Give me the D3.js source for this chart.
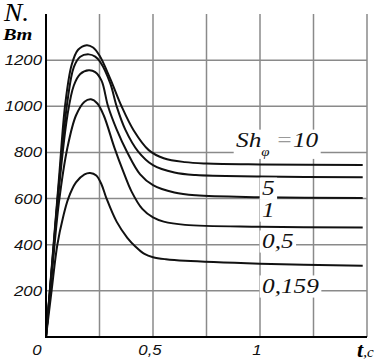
<!DOCTYPE html>
<html>
<head>
<meta charset="utf-8">
<script src="https://cdn.jsdelivr.net/npm/d3@7"></script>
<style>
  body { margin: 0; background: #fff; }
  svg { display: block; }
  .grid { stroke: #8a8a8a; stroke-width: 1.5; }
  .axis { stroke: #000; stroke-width: 2; }
  .curve { fill: none; stroke: #111; stroke-width: 2; }
  .tick { font-family: "Liberation Sans", Arial, sans-serif; font-style: italic; font-size: 14px; fill: #111; }
  .lbl { font-family: "Liberation Serif", "Times New Roman", serif; font-style: italic; font-size: 22px; fill: #111; }
</style>
</head>
<body>
<script>
const w = 386, h = 363;

// series: [t, N], one array per Sh value
const sh10 = [[0,0],[0.03,340],[0.06,680],[0.09,1010],[0.12,1180],[0.15,1245],[0.19,1265],[0.22,1255],[0.25,1220],
  [0.3,1120],[0.353,1000],[0.41,895],[0.48,810],[0.55,775],[0.65,758],[0.75,752],[1.0,748],[1.48,745]];
const sh5 = [[0,0],[0.03,330],[0.06,660],[0.1,1020],[0.13,1170],[0.16,1215],[0.2,1225],[0.23,1215],[0.255,1190],
  [0.3,1100],[0.33,1000],[0.37,900],[0.43,805],[0.5,745],[0.6,713],[0.7,702],[1.0,696],[1.48,692]];
const sh1 = [[0,0],[0.03,320],[0.06,640],[0.1,960],[0.13,1090],[0.16,1140],[0.2,1156],[0.23,1148],[0.26,1110],
  [0.29,1000],[0.33,900],[0.38,800],[0.44,705],[0.5,658],[0.6,626],[0.7,614],[1.0,606],[1.48,602]];
const sh05 = [[0,0],[0.03,300],[0.06,580],[0.1,820],[0.14,960],[0.18,1020],[0.21,1030],[0.24,1012],[0.27,960],
  [0.32,820],[0.36,720],[0.4,630],[0.45,555],[0.5,518],[0.55,500],[0.65,486],[1.0,478],[1.48,475]];
const sh0159 = [[0,0],[0.026,200],[0.053,400],[0.08,520],[0.104,600],[0.14,670],[0.18,705],[0.206,711],[0.235,700],
  [0.26,660],[0.283,600],[0.33,500],[0.38,430],[0.42,390],[0.46,360],[0.5,346],[0.56,337],[0.65,330],[1.0,318],[1.48,309]];

const series = [sh10, sh5, sh1, sh05, sh0159];
const curveLabels = ["5", "1", "0,5", "0,159"];
const curveLabelY = [615, 520, 386, 191]; // baseline level (N) of each label
const shLabelY = 823;
const yTicks = [200, 400, 600, 800, 1000, 1200];
const xGrid = [0.25, 0.5, 0.75, 1, 1.25, 1.5];
const xTicks = [0, 0.5, 1];
const xTickLabels = ["0", "0,5", "1"];

const x = d3.scaleLinear([0, 1.5], [46, 367]);
const y = d3.scaleLinear([0, 1400], [337, 14]);

const svg = d3.select('body').append('svg')
  .attr('width', w)
  .attr('height', h);

svg.selectAll('line.vg')
  .data(xGrid)
  .enter().append('line')
  .attr('class', 'grid')
  .attr('x1', d => x(d)).attr('x2', d => x(d))
  .attr('y1', y(0)).attr('y2', y(1400));

svg.selectAll('line.hg')
  .data(yTicks)
  .enter().append('line')
  .attr('class', 'grid')
  .attr('x1', x(0)).attr('x2', x(1.5))
  .attr('y1', d => y(d)).attr('y2', d => y(d));

const line = d3.line()
  .x(d => x(d[0]))
  .y(d => y(d[1]))
  .curve(d3.curveCatmullRom.alpha(0.5));

svg.selectAll('path.curve')
  .data(series)
  .enter().append('path')
  .attr('class', 'curve')
  .attr('d', line);

// axes
svg.append('line').attr('class', 'axis')
  .attr('x1', x(0)).attr('x2', x(0)).attr('y1', y(0) + 1).attr('y2', y(1400));
svg.append('line').attr('class', 'axis')
  .attr('x1', x(0) - 1).attr('x2', x(1.5)).attr('y1', y(0)).attr('y2', y(0));

// y tick labels
svg.selectAll('text.yt')
  .data(yTicks)
  .enter().append('text')
  .attr('class', 'tick')
  .attr('text-anchor', 'end')
  .attr('transform', d => `translate(42,${y(d) + 5}) scale(1.2,1)`)
  .text(d => d);

// x tick labels
svg.selectAll('text.xt')
  .data(xTicks)
  .enter().append('text')
  .attr('class', 'tick')
  .attr('text-anchor', 'middle')
  .attr('transform', (d, i) => `translate(${x(d) - (i === 0 ? 9 : 3)},355) scale(1.2,1)`)
  .text((d, i) => xTickLabels[i]);

// axis titles
svg.append('text')
  .attr('transform', 'translate(4,21) scale(1.1,1)')
  .style('font-family', '"Liberation Serif", serif')
  .style('font-style', 'italic')
  .style('font-size', '25px')
  .text('N.');
svg.append('text')
  .attr('transform', 'translate(3,40) scale(1.2,1)')
  .style('font-family', '"Liberation Serif", serif')
  .style('font-style', 'italic')
  .style('font-weight', 'bold')
  .style('font-size', '17px')
  .text('Bm');

const tt = svg.append('text')
  .attr('transform', 'translate(357,357)')
  .style('font-family', '"Liberation Serif", serif')
  .style('font-style', 'italic');
tt.append('tspan').style('font-size', '22px').style('font-weight', 'bold').text('t');
tt.append('tspan').style('font-size', '15px').text(',c');

// curve labels on white boxes that break the grid
function boxed(g) {
  const b = g.select('text').node().getBBox();
  g.insert('rect', 'text')
    .attr('x', b.x - 2).attr('y', b.y + 2)
    .attr('width', b.width + 4).attr('height', b.height - 2)
    .attr('fill', '#fff');
}

const shG = svg.append('g')
  .attr('transform', `translate(236,${y(shLabelY)}) scale(1.15,1)`);
const shText = shG.append('text').attr('class', 'lbl');
shText.append('tspan').text('Sh');
shText.append('tspan').attr('dy', 9).style('font-size', '13px').text('φ');
shText.append('tspan').attr('dy', -9).style('fill', '#999').text(' =');
shText.append('tspan').text('10');
boxed(shG);

svg.selectAll('g.cl')
  .data(curveLabels)
  .enter().append('g')
  .attr('transform', (d, i) => `translate(262,${y(curveLabelY[i])}) scale(1.15,1)`)
  .each(function(d) {
    const g = d3.select(this);
    g.append('text').attr('class', 'lbl').text(d);
    boxed(g);
  });
</script>
</body>
</html>
